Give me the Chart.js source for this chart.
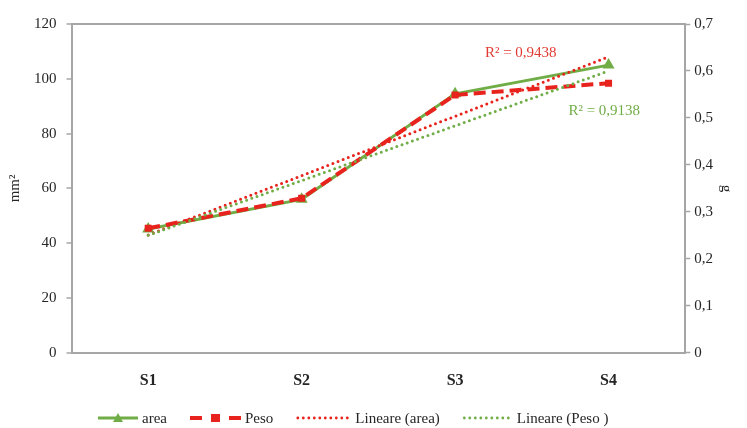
<!DOCTYPE html>
<html>
<head>
<meta charset="utf-8">
<script src="https://cdn.jsdelivr.net/npm/chart.js@4/dist/chart.umd.min.js"></script>
<style>
  html, body { margin: 0; padding: 0; background: #ffffff; }
  #wrap { width: 747px; height: 428px; }
</style>
</head>
<body>
<div id="wrap"><canvas id="c" width="747" height="428"></canvas></div>
<script>
// Campioni
const categories = ['S1', 'S2', 'S3', 'S4'];
// Area (mm²), asse sinistro
const areaValues = [45.2, 56.0, 94.5, 105.0];
// Peso (g), asse destro
const pesoValues = [0.265, 0.329, 0.549, 0.574];
// Linee di tendenza lineari (estremi S1 e S4)
const trendArea = [43.0, null, null, 108.0];
const trendPeso = [0.25, null, null, 0.60];
// Coefficienti di determinazione
const r2Area = '0,9438';
const r2Peso = '0,9138';

const GREEN = '#70ad47';
const RED = '#e8221c';
const AXIS = '#a6a6a6';
const TEXT = '#262626';
const FONT = "'Liberation Serif', 'Times New Roman', serif";

// Draws one legend sample (line in the series style, marker in the middle)
function drawSample(g, kind, x0, len, y) {
  g.save();
  if (kind === 'area') {
    g.strokeStyle = GREEN; g.lineWidth = 3;
    g.beginPath(); g.moveTo(x0, y); g.lineTo(x0 + len, y); g.stroke();
    const cx = x0 + len / 2;
    g.fillStyle = GREEN;
    g.beginPath(); g.moveTo(cx, y - 5); g.lineTo(cx + 5, y + 4); g.lineTo(cx - 5, y + 4); g.closePath(); g.fill();
  } else if (kind === 'peso') {
    const cx = x0 + len / 2;
    g.strokeStyle = RED; g.lineWidth = 4;
    g.beginPath(); g.moveTo(x0, y); g.lineTo(x0 + 12, y); g.moveTo(x0 + len - 12, y); g.lineTo(x0 + len, y); g.stroke();
    g.fillStyle = RED;
    g.fillRect(cx - 4.5, y - 4, 9, 8);
  } else {
    g.fillStyle = kind === 'tArea' ? RED : GREEN;
    for (let x = x0 + 1.5; x <= x0 + len; x += 5.5) {
      g.beginPath(); g.arc(x, y, 1.4, 0, Math.PI * 2); g.fill();
    }
  }
  g.restore();
}

// Legend drawn along the bottom, below the category labels
const legendKinds = ['area', 'peso', 'tArea', 'tPeso'];
const sampleLen = [40, 51, 55, 50];
const bottomLegend = {
  id: 'bottomLegend',
  afterDraw(chart) {
    const g = chart.ctx;
    g.save();
    g.font = '15px ' + FONT;
    g.textBaseline = 'middle';
    g.fillStyle = TEXT;
    const y = 418;
    let x = 98;
    chart.data.datasets.forEach((ds, i) => {
      drawSample(g, legendKinds[i], x, sampleLen[i], y);
      x += sampleLen[i] + 4;
      g.fillStyle = TEXT;
      g.fillText(ds.label, x, y + 1);
      x += g.measureText(ds.label).width + 23;
    });
    g.restore();
  }
};

// R² labels next to the trend lines
const r2Labels = {
  id: 'r2Labels',
  afterDatasetsDraw(chart) {
    const { ctx, chartArea: a } = chart;
    ctx.save();
    ctx.font = '15px ' + FONT;
    ctx.textAlign = 'center';
    ctx.textBaseline = 'middle';
    ctx.fillStyle = '#e03a32';
    ctx.fillText('R² = ' + r2Area, a.left + a.width * 0.732, a.top + a.height * 0.088);
    ctx.fillStyle = GREEN;
    ctx.fillText('R² = ' + r2Peso, a.left + a.width * 0.868, a.top + a.height * 0.264);
    ctx.restore();
  }
};

new Chart(document.getElementById('c'), {
  type: 'line',
  data: {
    labels: categories,
    datasets: [
      {
        label: 'area', data: areaValues, yAxisID: 'y', order: 4,
        borderColor: GREEN, backgroundColor: GREEN, borderWidth: 3,
        pointStyle: 'triangle', pointRadius: 7, pointBorderWidth: 0,
        pointBackgroundColor: GREEN
      },
      {
        label: 'Peso', data: pesoValues, yAxisID: 'y1', order: 3,
        borderColor: RED, backgroundColor: RED, borderWidth: 4,
        borderDash: [12, 6],
        pointStyle: 'rect', pointRadius: 5, pointBorderWidth: 0,
        pointBackgroundColor: RED
      },
      {
        label: 'Lineare (area)', data: trendArea, yAxisID: 'y', order: 2,
        borderColor: RED, borderWidth: 3, borderDash: [0, 5.5], borderCapStyle: 'round',
        pointRadius: 0, spanGaps: true
      },
      {
        label: 'Lineare (Peso )', data: trendPeso, yAxisID: 'y1', order: 1,
        borderColor: GREEN, borderWidth: 3, borderDash: [0, 5.5], borderCapStyle: 'round',
        pointRadius: 0, spanGaps: true
      }
    ]
  },
  options: {
    responsive: false,
    animation: false,
    layout: { padding: { left: 0, right: 8, top: 24, bottom: 20 } },
    plugins: {
      tooltip: { enabled: false },
      legend: { display: false }
    },
    scales: {
      x: {
        offset: true,
        grid: { display: false, drawTicks: false },
        border: { display: true, color: AXIS, width: 2 },
        ticks: { color: TEXT, padding: 18, font: { family: FONT, size: 16, weight: 'bold' } }
      },
      y: {
        position: 'left',
        min: 0, max: 120,
        ticks: { stepSize: 20, color: TEXT, padding: 10, font: { family: FONT, size: 15 } },
        grid: {
          color: (c) => (c.tick && c.tick.value === 120 ? AXIS : 'rgba(0,0,0,0)'),
          lineWidth: 2,
          tickColor: AXIS, tickLength: 5, tickWidth: 1.5
        },
        border: { display: true, color: AXIS, width: 2 },
        title: { display: true, text: 'mm²', color: TEXT, padding: { top: 6, bottom: 0 }, font: { family: FONT, size: 15 } }
      },
      y1: {
        position: 'right',
        min: 0, max: 0.7,
        ticks: {
          stepSize: 0.1, color: TEXT, padding: 4,
          font: { family: FONT, size: 15 },
          callback: (v) => (v === 0 ? '0' : v.toFixed(1).replace('.', ','))
        },
        grid: { drawOnChartArea: false, tickColor: AXIS, tickLength: 5, tickWidth: 1.5 },
        border: { display: true, color: AXIS, width: 2 },
        title: { display: true, text: 'g', color: TEXT, padding: { top: 4, bottom: 0 }, font: { family: FONT, size: 15 } }
      }
    }
  },
  plugins: [r2Labels, bottomLegend]
});
</script>
</body>
</html>
